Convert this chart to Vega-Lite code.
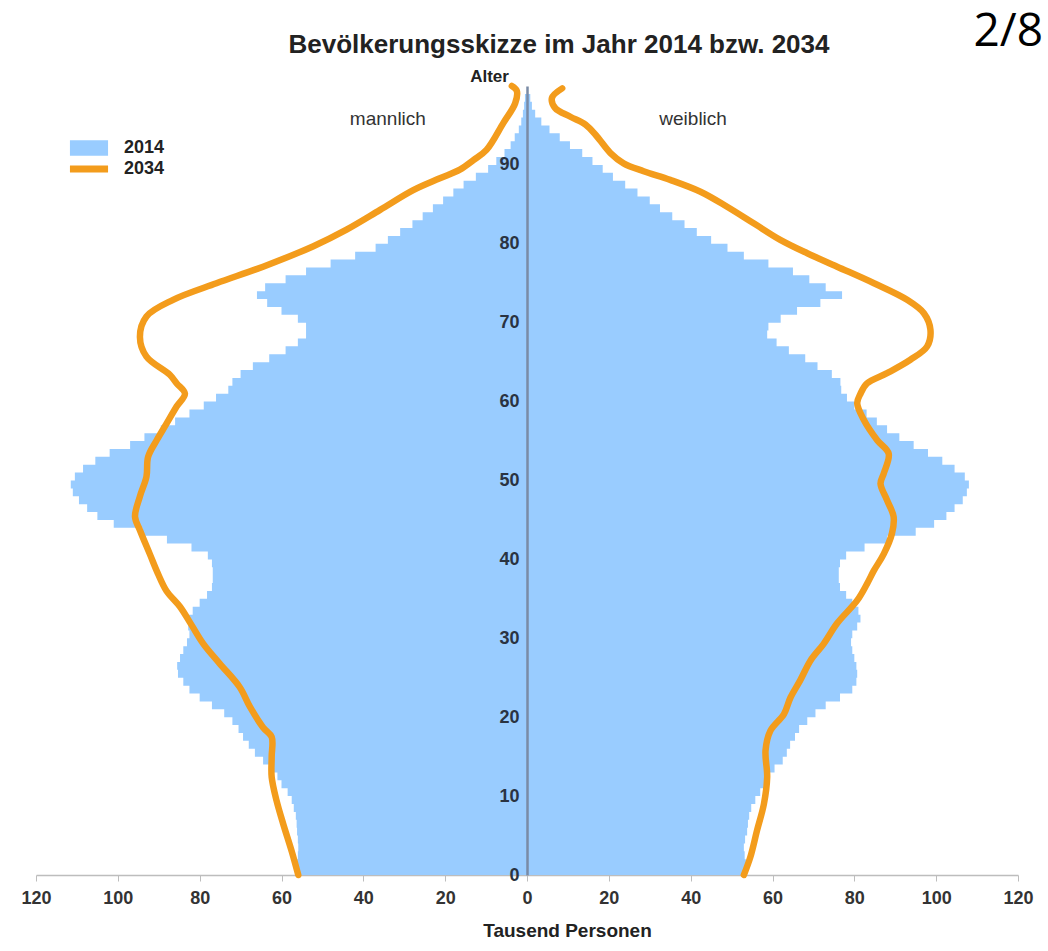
{
  "$schema": "https://vega.github.io/schema/vega-lite/v6.json",
  "padding": {"left": 20, "top": 8, "right": 0, "bottom": 0},
  "background": "white",
  "title": {"text": "Bevölkerungsskizze im Jahr 2014 bzw. 2034", "font": "Liberation Sans", "fontSize": 26, "fontWeight": "bold", "color": "#222222", "anchor": "middle", "frame": "group", "offset": -49.5, "dx": 523},
  "spacing": 0,
  "bounds": "flush",
  "datasets": {
    "p2014": [
      {"age":0,"male":55.5,"female":53,"year":"2014"},{"age":1,"male":56,"female":53.5,"year":"2014"},{"age":2,"male":56.3,"female":53.5,"year":"2014"},{"age":3,"male":56,"female":53.2,"year":"2014"},{"age":4,"male":55.9,"female":53,"year":"2014"},
      {"age":5,"male":56,"female":53.3,"year":"2014"},{"age":6,"male":56.2,"female":53.8,"year":"2014"},{"age":7,"male":56.3,"female":54,"year":"2014"},{"age":8,"male":56.5,"female":54.3,"year":"2014"},{"age":9,"male":57,"female":54.8,"year":"2014"},
      {"age":10,"male":57.5,"female":55.8,"year":"2014"},{"age":11,"male":58.5,"female":57,"year":"2014"},{"age":12,"male":60,"female":58,"year":"2014"},{"age":13,"male":61,"female":59,"year":"2014"},{"age":14,"male":63,"female":60.5,"year":"2014"},
      {"age":15,"male":64.5,"female":62.5,"year":"2014"},{"age":16,"male":66.5,"female":63.5,"year":"2014"},{"age":17,"male":68,"female":64.3,"year":"2014"},{"age":18,"male":69.4,"female":65.5,"year":"2014"},{"age":19,"male":70.5,"female":66.5,"year":"2014"},
      {"age":20,"male":72,"female":68.5,"year":"2014"},{"age":21,"male":74,"female":70.5,"year":"2014"},{"age":22,"male":77,"female":73,"year":"2014"},{"age":23,"male":80,"female":76.5,"year":"2014"},{"age":24,"male":82.5,"female":79.5,"year":"2014"},
      {"age":25,"male":84,"female":80.5,"year":"2014"},{"age":26,"male":85.3,"female":80.7,"year":"2014"},{"age":27,"male":85.5,"female":80.5,"year":"2014"},{"age":28,"male":84.8,"female":80,"year":"2014"},{"age":29,"male":84,"female":79.5,"year":"2014"},
      {"age":30,"male":83.1,"female":79.2,"year":"2014"},{"age":31,"male":82.5,"female":79.5,"year":"2014"},{"age":32,"male":82.8,"female":80.7,"year":"2014"},{"age":33,"male":83,"female":81.5,"year":"2014"},{"age":34,"male":81.7,"female":81,"year":"2014"},
      {"age":35,"male":80,"female":79.5,"year":"2014"},{"age":36,"male":78.2,"female":78,"year":"2014"},{"age":37,"male":77,"female":76.5,"year":"2014"},{"age":38,"male":76.8,"female":76.2,"year":"2014"},{"age":39,"male":76.8,"female":76.2,"year":"2014"},
      {"age":40,"male":77,"female":76.5,"year":"2014"},{"age":41,"male":78,"female":78,"year":"2014"},{"age":42,"male":82,"female":82.5,"year":"2014"},{"age":43,"male":88,"female":88,"year":"2014"},{"age":44,"male":94,"female":95,"year":"2014"},
      {"age":45,"male":101,"female":99.5,"year":"2014"},{"age":46,"male":105,"female":102.5,"year":"2014"},{"age":47,"male":107.5,"female":104.5,"year":"2014"},{"age":48,"male":109.5,"female":106.5,"year":"2014"},{"age":49,"male":111,"female":107.5,"year":"2014"},
      {"age":50,"male":111.5,"female":108,"year":"2014"},{"age":51,"male":110.5,"female":107,"year":"2014"},{"age":52,"male":108.5,"female":104.5,"year":"2014"},{"age":53,"male":105.5,"female":101.5,"year":"2014"},{"age":54,"male":102,"female":98,"year":"2014"},
      {"age":55,"male":97,"female":94.5,"year":"2014"},{"age":56,"male":93.5,"female":91,"year":"2014"},{"age":57,"male":89.5,"female":88,"year":"2014"},{"age":58,"male":86,"female":85.5,"year":"2014"},{"age":59,"male":82.5,"female":83,"year":"2014"},
      {"age":60,"male":79,"female":80,"year":"2014"},{"age":61,"male":76,"female":78.2,"year":"2014"},{"age":62,"male":73,"female":76.8,"year":"2014"},{"age":63,"male":72,"female":76.6,"year":"2014"},{"age":64,"male":70,"female":74.5,"year":"2014"},
      {"age":65,"male":67,"female":71,"year":"2014"},{"age":66,"male":63,"female":68,"year":"2014"},{"age":67,"male":59,"female":64,"year":"2014"},{"age":68,"male":56,"female":61,"year":"2014"},{"age":69,"male":54,"female":58.7,"year":"2014"},
      {"age":70,"male":54,"female":59,"year":"2014"},{"age":71,"male":56,"female":62,"year":"2014"},{"age":72,"male":60,"female":66,"year":"2014"},{"age":73,"male":63.5,"female":71.7,"year":"2014"},{"age":74,"male":66,"female":77,"year":"2014"},
      {"age":75,"male":64,"female":73,"year":"2014"},{"age":76,"male":59,"female":69,"year":"2014"},{"age":77,"male":54,"female":65,"year":"2014"},{"age":78,"male":48,"female":59,"year":"2014"},{"age":79,"male":42,"female":53,"year":"2014"},
      {"age":80,"male":37,"female":49,"year":"2014"},{"age":81,"male":34,"female":45,"year":"2014"},{"age":82,"male":31,"female":41.5,"year":"2014"},{"age":83,"male":28,"female":38.5,"year":"2014"},{"age":84,"male":25.5,"female":35.5,"year":"2014"},
      {"age":85,"male":23,"female":32.5,"year":"2014"},{"age":86,"male":20.5,"female":30,"year":"2014"},{"age":87,"male":18,"female":27,"year":"2014"},{"age":88,"male":15.5,"female":24,"year":"2014"},{"age":89,"male":12.5,"female":21,"year":"2014"},
      {"age":90,"male":9.5,"female":18.5,"year":"2014"},{"age":91,"male":7.5,"female":16,"year":"2014"},{"age":92,"male":5.5,"female":13.5,"year":"2014"},{"age":93,"male":4,"female":10.5,"year":"2014"},{"age":94,"male":3,"female":8,"year":"2014"},
      {"age":95,"male":2,"female":5.5,"year":"2014"},{"age":96,"male":1.4,"female":3.5,"year":"2014"},{"age":97,"male":1,"female":2,"year":"2014"},{"age":98,"male":0.7,"female":1.2,"year":"2014"},{"age":99,"male":0.5,"female":0.8,"year":"2014"}
    ],
    "m2034": [
      {"age":0,"value":55.9,"year":"2034"},{"age":3,"value":57.5,"year":"2034"},{"age":6.5,"value":59.6,"year":"2034"},{"age":9.4,"value":61.2,"year":"2034"},{"age":12.4,"value":62.4,"year":"2034"},
      {"age":15,"value":62.4,"year":"2034"},{"age":17.5,"value":62.4,"year":"2034"},{"age":18.7,"value":64.5,"year":"2034"},{"age":21.3,"value":67.7,"year":"2034"},{"age":23.8,"value":70.2,"year":"2034"},
      {"age":26.8,"value":75.1,"year":"2034"},{"age":29.3,"value":79.1,"year":"2034"},{"age":31.7,"value":82,"year":"2034"},{"age":34,"value":84.8,"year":"2034"},{"age":36,"value":88.1,"year":"2034"},
      {"age":38.2,"value":90.2,"year":"2034"},{"age":40.7,"value":92.2,"year":"2034"},{"age":43.7,"value":94.6,"year":"2034"},{"age":45.4,"value":95.8,"year":"2034"},{"age":48,"value":94.6,"year":"2034"},
      {"age":50.5,"value":93,"year":"2034"},{"age":53,"value":92.6,"year":"2034"},{"age":55.1,"value":90.5,"year":"2034"},{"age":57.2,"value":88.1,"year":"2034"},{"age":59.4,"value":85.6,"year":"2034"},
      {"age":61,"value":83.6,"year":"2034"},{"age":62.3,"value":85.6,"year":"2034"},{"age":63.4,"value":87.3,"year":"2034"},{"age":65.7,"value":93,"year":"2034"},{"age":68.2,"value":94.6,"year":"2034"},
      {"age":70.8,"value":93,"year":"2034"},{"age":72.9,"value":86.5,"year":"2034"},{"age":75,"value":75.9,"year":"2034"},{"age":77.1,"value":64.5,"year":"2034"},{"age":79.7,"value":52.2,"year":"2034"},
      {"age":81.8,"value":44.1,"year":"2034"},{"age":84.3,"value":35.9,"year":"2034"},{"age":86.8,"value":27.8,"year":"2034"},{"age":88.3,"value":21.3,"year":"2034"},{"age":89.4,"value":16.4,"year":"2034"},
      {"age":90.6,"value":13.1,"year":"2034"},{"age":91.9,"value":9.9,"year":"2034"},{"age":95.3,"value":5.8,"year":"2034"},{"age":97.8,"value":2.9,"year":"2034"},{"age":99.4,"value":2.5,"year":"2034"},
      {"age":100,"value":3.7,"year":"2034"}
    ],
    "f2034": [
      {"age":0,"value":53,"year":"2034"},{"age":2.3,"value":54.6,"year":"2034"},{"age":5.6,"value":56.2,"year":"2034"},{"age":9,"value":57.9,"year":"2034"},{"age":12.4,"value":58.7,"year":"2034"},
      {"age":15.8,"value":58.3,"year":"2034"},{"age":18.3,"value":59.5,"year":"2034"},{"age":20.4,"value":62.8,"year":"2034"},{"age":22.5,"value":64.4,"year":"2034"},{"age":24.7,"value":66.8,"year":"2034"},
      {"age":27.2,"value":69.3,"year":"2034"},{"age":29.3,"value":72.5,"year":"2034"},{"age":31.9,"value":75.8,"year":"2034"},{"age":34.8,"value":80.7,"year":"2034"},{"age":36.9,"value":83.1,"year":"2034"},
      {"age":38.6,"value":84.8,"year":"2034"},{"age":40.7,"value":87.2,"year":"2034"},{"age":43.3,"value":89.2,"year":"2034"},{"age":45.4,"value":89.6,"year":"2034"},{"age":47.5,"value":88,"year":"2034"},
      {"age":49.6,"value":86.4,"year":"2034"},{"age":50.9,"value":87.2,"year":"2034"},{"age":53.4,"value":88.4,"year":"2034"},{"age":55.1,"value":85.6,"year":"2034"},{"age":57.7,"value":82.3,"year":"2034"},
      {"age":59.8,"value":80.7,"year":"2034"},{"age":61,"value":81.5,"year":"2034"},{"age":62.3,"value":83.1,"year":"2034"},{"age":63.6,"value":88,"year":"2034"},{"age":65.3,"value":93.7,"year":"2034"},
      {"age":67,"value":97.8,"year":"2034"},{"age":69.1,"value":98.6,"year":"2034"},{"age":71.2,"value":97,"year":"2034"},{"age":72.9,"value":92.9,"year":"2034"},{"age":75,"value":84.8,"year":"2034"},
      {"age":77.1,"value":75.8,"year":"2034"},{"age":78.8,"value":68.5,"year":"2034"},{"age":80.5,"value":61.9,"year":"2034"},{"age":82.6,"value":55.4,"year":"2034"},{"age":84.7,"value":48.9,"year":"2034"},
      {"age":86.6,"value":42.4,"year":"2034"},{"age":88.1,"value":35,"year":"2034"},{"age":89.2,"value":28.5,"year":"2034"},{"age":90.2,"value":23.6,"year":"2034"},{"age":91.5,"value":20.4,"year":"2034"},
      {"age":93.6,"value":17.1,"year":"2034"},{"age":95.1,"value":14.3,"year":"2034"},{"age":96.1,"value":10.6,"year":"2034"},{"age":97.2,"value":6.9,"year":"2034"},{"age":98.5,"value":6.1,"year":"2034"},
      {"age":99.7,"value":8.6,"year":"2034"}
    ]
  },
  "hconcat": [
    {
      "width": 491,
      "height": 789,
      "layer": [
        {
          "data": {"name": "p2014"},
          "mark": {"type": "area", "orient": "horizontal", "interpolate": "step-before"},
          "encoding": {
            "y": {"field": "age", "type": "quantitative", "scale": {"domain": [0, 100], "nice": false, "zero": false}, "axis": null},
            "x": {"field": "male", "type": "quantitative", "stack": null, "scale": {"domain": [0, 120], "nice": false, "reverse": true},
                  "axis": {"values": [20, 40, 60, 80, 100, 120], "labelFlush": false, "title": null, "grid": false, "labelFont": "Liberation Sans", "labelFontWeight": "bold", "labelFontSize": 18, "labelColor": "#333333", "domainColor": "#bdbdbd", "domainWidth": 1.5, "tickColor": "#bdbdbd", "tickSize": 6, "labelPadding": 8}},
            "color": {"field": "year", "type": "nominal", "scale": {"domain": ["2014", "2034"], "range": ["#99ccff", "#f39c1c"]},
                      "legend": {"orient": "none", "legendX": 44, "legendY": 53, "title": null, "padding": 0, "labelFont": "Liberation Sans", "labelFontWeight": "bold", "labelFontSize": 18, "labelColor": "#222222", "symbolSize": 300, "labelOffset": 26, "rowPadding": 3,
                                 "encode": {"symbols": {"update": {"shape": {"signal": "datum.value === '2014' ? 'M-2.2,-0.9H2.2V0.9H-2.2Z' : 'M-2.2,-0.4H2.2V0.4H-2.2Z'"}, "fill": {"signal": "datum.value === '2014' ? '#99ccff' : '#f39c1c'"}, "stroke": {"value": "transparent"}, "strokeWidth": {"value": 0}, "opacity": {"value": 1}, "fillOpacity": {"value": 1}}}}}}
          }
        },
        {
          "data": {"name": "m2034"},
          "mark": {"type": "line", "strokeWidth": 6.5, "interpolate": "catmull-rom", "strokeCap": "round", "strokeJoin": "round"},
          "encoding": {
            "y": {"field": "age", "type": "quantitative"},
            "x": {"field": "value", "type": "quantitative"},
            "order": {"field": "age", "type": "quantitative"},
            "color": {"field": "year", "type": "nominal"}
          }
        },
        {
          "data": {"values": [{"label": "mannlich"}]},
          "mark": {"type": "text", "font": "Liberation Sans", "fontSize": 19, "color": "#333333"},
          "encoding": {"x": {"datum": 34}, "y": {"datum": 95.8}, "text": {"field": "label"}}
        }
      ]
    },
    {
      "width": 491,
      "height": 789,
      "title": {"text": "2/8", "anchor": "end", "frame": "group", "font": "Open Sans", "fontSize": 46, "fontWeight": "normal", "color": "#000000", "offset": 11.5, "dx": 25},
      "layer": [
        {
          "data": {"name": "p2014"},
          "mark": {"type": "area", "orient": "horizontal", "interpolate": "step-before"},
          "encoding": {
            "y": {"field": "age", "type": "quantitative", "scale": {"domain": [0, 100], "nice": false, "zero": false},
                  "axis": {"orient": "left", "values": [0, 10, 20, 30, 40, 50, 60, 70, 80, 90], "grid": false, "ticks": false, "zindex": 1, "labelFont": "Liberation Sans", "labelFontWeight": "bold", "labelFontSize": 18, "labelColor": "#2a3342", "labelPadding": 8, "domainColor": "#7a8ba6", "domainWidth": 2.5,
                           "title": "Alter", "titleAngle": 0, "titleX": -38, "titleY": -10, "titleAlign": "center", "titleBaseline": "middle", "titleFont": "Liberation Sans", "titleFontSize": 17, "titleFontWeight": "bold", "titleColor": "#222222"}},
            "x": {"field": "female", "type": "quantitative", "stack": null, "scale": {"domain": [0, 120], "nice": false},
                  "axis": {"values": [0, 20, 40, 60, 80, 100, 120], "labelFlush": false, "grid": false, "labelFont": "Liberation Sans", "labelFontWeight": "bold", "labelFontSize": 18, "labelColor": "#333333", "domainColor": "#bdbdbd", "domainWidth": 1.5, "tickColor": "#bdbdbd", "tickSize": 6, "labelPadding": 8,
                           "title": "Tausend Personen", "titleFont": "Liberation Sans", "titleFontSize": 19, "titleFontWeight": "bold", "titleColor": "#222222", "titleX": 40, "titleY": 55, "titleAlign": "center", "titleBaseline": "middle"}},
            "color": {"field": "year", "type": "nominal"}
          }
        },
        {
          "data": {"name": "f2034"},
          "mark": {"type": "line", "strokeWidth": 6.5, "interpolate": "catmull-rom", "strokeCap": "round", "strokeJoin": "round"},
          "encoding": {
            "y": {"field": "age", "type": "quantitative"},
            "x": {"field": "value", "type": "quantitative"},
            "order": {"field": "age", "type": "quantitative"},
            "color": {"field": "year", "type": "nominal"}
          }
        },
        {
          "data": {"values": [{"label": "weiblich"}]},
          "mark": {"type": "text", "font": "Liberation Sans", "fontSize": 19, "color": "#333333"},
          "encoding": {"x": {"datum": 40.6}, "y": {"datum": 95.8}, "text": {"field": "label"}}
        }
      ]
    }
  ],
  "config": {"view": {"stroke": null}}
}
